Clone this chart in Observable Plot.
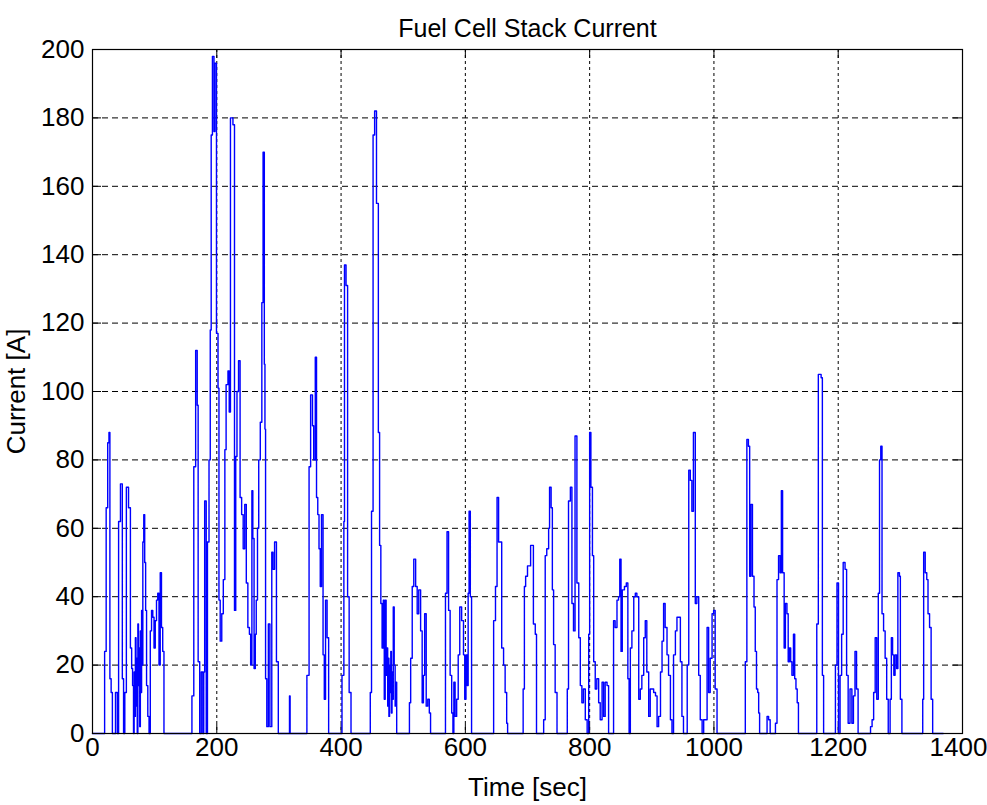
<!DOCTYPE html>
<html>
<head>
<meta charset="utf-8">
<script src="https://cdn.jsdelivr.net/npm/d3@7"></script>
<script src="https://cdn.jsdelivr.net/npm/@observablehq/plot@0.6"></script>
<style>
  html, body { margin: 0; padding: 0; background: #fff; }
  #chart { width: 987px; height: 805px; }
</style>
</head>
<body>
<div id="chart"></div>
<script>
const title = "Fuel Cell Stack Current";
const xLabel = "Time [sec]";
const yLabel = "Current [A]";
const xTicks = [0, 200, 400, 600, 800, 1000, 1200, 1400];
const yTicks = [0, 20, 40, 60, 80, 100, 120, 140, 160, 180, 200];

// Time samples [sec] (each value held until the next sample)
const times = [
  0, 19, 19.5, 22, 24.5, 26.5, 28, 30, 32, 37, 40, 42, 45, 48, 50, 52, 54.5, 58, 61, 63, 64.5, 66, 67, 68, 69, 70, 71, 72, 73, 74, 75, 76, 77, 78, 79, 80, 81, 82.5, 84, 85.5, 87, 89, 91, 93, 95, 97, 99, 101, 103, 105, 107, 109, 111, 113, 115,
  160, 163, 166, 168.5, 170, 172.5, 175, 177.5, 179, 180.5, 183, 185, 187.5, 189.5, 191, 193, 195.5, 197, 199.5, 202, 203.5, 205.5, 208, 210.5, 213, 215, 218, 220, 222, 226, 228.5, 230.5, 232.5, 235, 237.5, 240, 242.5, 245, 247.5, 250, 252.5, 254.5, 256.5, 258, 260, 262, 263.5, 265.5, 267.5, 270, 272.5, 274.5, 276.5, 277.5, 278.5, 280.5, 283, 285.5, 288.5, 290.5, 293, 296, 299,
  317, 318, 345, 348.5, 351, 354, 356, 358.5, 360.5, 362.5, 364.5, 366.5, 368.5, 371, 373, 375, 377.5, 380,
  401.5, 404.5, 405.5, 408, 410.5, 413, 416,
  447, 449, 451.5, 454, 457, 460, 462, 464, 466, 468, 469.5, 471, 472.5, 474, 475, 476, 477, 478, 479, 480, 481, 482, 483, 484, 485.5, 487, 488.5, 489.5,
  510, 512, 514.5, 517, 520, 522.5, 525, 528, 530.5, 532.5, 534.5, 537, 539.5, 542, 544,
  568, 570.5, 573, 575.5, 578, 580, 581.5, 583.5, 586, 588.5, 591, 594, 597, 599, 601, 603, 604.5, 606, 608, 610,
  645.5, 648.5, 651, 653.5, 658.5, 661.5, 664, 666.5, 668,
  693, 695, 697, 700, 705, 709.5, 712.5, 714.5, 726, 728.5, 731, 734, 735.5, 738, 740, 742, 744.5, 747.5,
  764, 766, 769, 771.5, 774, 776.5, 779.5, 782.5, 785, 787.5, 790, 793, 796, 798.5, 800, 802, 804.5, 806.5, 809, 811.5, 814.5, 817, 820, 822.5, 825, 828, 830.5,
  838.5, 841, 844, 846.5, 848.5, 850.5, 852.5, 856, 859, 861.5, 863.5, 865.5, 868, 871, 873.5, 876, 879, 881.5, 884, 887, 889.5, 892, 895, 897.5, 900, 903, 906, 908.5, 911, 914, 916.5, 919, 921.5, 924.5, 927, 930, 932.5, 935, 938, 940.5, 943, 946, 948.5, 951,
  957, 959.5, 962, 964.5, 967, 970, 972.5, 975.5, 978, 981, 983.5, 986.5, 989, 991.5, 994, 997, 999.5, 1002, 1005,
  1050.5, 1053, 1055.5, 1057.5, 1059.5, 1062, 1064.5, 1066.5, 1068.5, 1070.5, 1072, 1073.5, 1085.5, 1088, 1090.5,
  1099, 1101.5, 1104, 1106.5, 1108.5, 1110.5, 1113, 1115, 1117.5, 1119.5, 1121.5, 1123.5, 1125.5, 1128, 1130, 1132, 1134, 1136,
  1165.5, 1168, 1172.5, 1174.5, 1176.5,
  1195.5, 1198, 1200.5, 1203, 1205.5, 1208, 1211, 1213.5, 1216, 1219, 1222, 1224.5, 1227, 1229.5, 1232,
  1252, 1254.5, 1257, 1259.5, 1262, 1264.5, 1266.5, 1268.5, 1270.5, 1273, 1275.5, 1278, 1280.5, 1283.5, 1285.5, 1287.5, 1289.5, 1291.5, 1294, 1296, 1298.5, 1300, 1302.5,
  1336, 1337.5, 1340, 1342.5, 1344.5, 1347, 1349.5, 1352, 1369
];

// Stack current [A]
const current = [
  0, 0, 24, 66, 85, 88, 16, 12, 0, 12, 0, 62, 73, 16, 0, 12, 72, 66, 25, 19, 14, 0, 18, 5, 28, 8, 22, 0, 32, 14, 25, 2, 30, 12, 36, 20, 56, 64, 50, 36, 14, 5, 0, 30, 36, 34, 25, 33, 39, 41, 20, 47, 31, 24, 0,
  11, 78, 112, 96, 21, 0, 18, 0, 18, 68, 0, 56, 80, 118, 175, 198, 176, 196, 117, 101, 39, 27, 35, 45, 83, 102, 106, 94, 180, 178, 36, 81, 100, 109, 69, 64, 54, 67, 44, 31, 29, 20, 71, 57, 19, 29, 39, 60, 80, 91, 126, 170, 108, 89, 16, 2, 32, 2, 53, 48, 56, 21, 0,
  11, 0, 17, 78, 99, 90, 80, 110, 69, 64, 54, 43, 64, 23, 10, 39, 28, 0,
  17, 62, 137, 131, 40, 12, 0,
  12, 65, 175, 182, 155, 88, 55, 38, 25, 39, 10, 39, 17, 25, 8, 22, 5, 20, 12, 24, 6, 18, 10, 37, 20, 8, 15, 0,
  9, 22, 43, 51, 43, 35, 42, 30, 9, 17, 35, 8, 10, 6, 0,
  41, 59, 36, 17, 6, 0, 15, 5, 10, 23, 37, 33, 23, 10, 23, 14, 41, 65, 40, 0,
  33, 43, 69, 56, 25, 20, 12, 3, 0,
  13, 43, 46, 49, 55, 32, 29, 0, 4, 52, 54, 60, 72, 66, 42, 26, 12, 0,
  13, 68, 72, 38, 30, 87, 44, 28, 14, 9, 13, 4, 0, 29, 88, 72, 52, 21, 13, 16, 9, 4, 15, 5, 15, 14, 0,
  33, 31, 39, 40, 51, 24, 42, 43, 44, 16, 0, 25, 30, 40, 41, 40, 10, 13, 17, 28, 33, 18, 5, 13, 13, 12, 11, 2, 5, 18, 27, 38, 31, 23, 17, 4, 0, 23, 30, 34, 34, 21, 5, 0,
  20, 77, 74, 65, 88, 38, 40, 17, 4, 0, 4, 4, 31, 12, 22, 35, 36, 13, 0,
  21, 86, 84, 46, 67, 46, 37, 24, 13, 12, 6, 0, 5, 4, 0,
  3, 45, 52, 47, 71, 47, 25, 38, 35, 21, 25, 21, 17, 29, 16, 13, 9, 0,
  32, 105, 104, 17, 0,
  20, 44, 0, 17, 29, 50, 48, 17, 3, 13, 3, 11, 24, 13, 0,
  2, 4, 12, 28, 10, 41, 80, 84, 35, 30, 22, 10, 0, 10, 28, 23, 17, 23, 19, 47, 46, 10, 0,
  10, 53, 47, 45, 35, 31, 10, 0, 0
];

const data = times.map((t, i) => ({t, v: current[i]}));

const W = 987, H = 805;
const mTop = 49, mBottom = 72, mLeft = 92, mRight = 25;
const frameH = H - mTop - mBottom;
const frameW = W - mLeft - mRight;
const tickLen = 9;
const fontFam = "'Liberation Sans', Arial, Helvetica, sans-serif";
const lastX = xTicks[xTicks.length - 1];

const chart = Plot.plot({
  width: W,
  height: H,
  marginTop: mTop,
  marginBottom: mBottom,
  marginLeft: mLeft,
  marginRight: mRight,
  style: {fontFamily: fontFam, fontSize: "26px", color: "#000", background: "#fff"},
  x: {domain: [0, 1400]},
  y: {domain: [0, 200]},
  marks: [
    Plot.gridX(xTicks, {stroke: "#000", strokeOpacity: 1, strokeWidth: 1, strokeDasharray: "3,3"}),
    Plot.gridY(yTicks, {stroke: "#000", strokeOpacity: 1, strokeWidth: 1, strokeDasharray: "6,4"}),
    Plot.ruleX(xTicks, {stroke: "#000", insetTop: frameH - tickLen}),
    Plot.ruleX(xTicks, {stroke: "#000", insetBottom: frameH - tickLen}),
    Plot.ruleY(yTicks, {stroke: "#000", insetRight: frameW - tickLen}),
    Plot.ruleY(yTicks, {stroke: "#000", insetLeft: frameW - tickLen}),
    Plot.line(data, {x: "t", y: "v", curve: "step-after", stroke: "#0000ff", strokeWidth: 1.4}),
    Plot.frame({stroke: "#000", strokeWidth: 1.2}),
    Plot.axisX({ticks: xTicks.slice(0, -1), tickSize: 0, tickPadding: 4, tickFormat: d => String(d),
      label: null, fontSize: 26}),
    Plot.text([lastX], {x: d => d, frameAnchor: "bottom", lineAnchor: "top", dy: 4, dx: -4,
      text: d => String(d), fontSize: 26, fill: "#000"}),
    Plot.text([xLabel], {frameAnchor: "bottom", lineAnchor: "bottom", dy: 62, fontSize: 26, fill: "#000"}),
    Plot.axisY({ticks: yTicks, tickSize: 0, tickPadding: 8, tickFormat: d => String(d),
      label: yLabel, labelAnchor: "center", labelArrow: "none", labelOffset: 86, fontSize: 26}),
    Plot.text([title], {frameAnchor: "top", dy: -30, fontSize: 25, fill: "#000"})
  ]
});
document.getElementById("chart").appendChild(chart);
</script>
</body>
</html>
